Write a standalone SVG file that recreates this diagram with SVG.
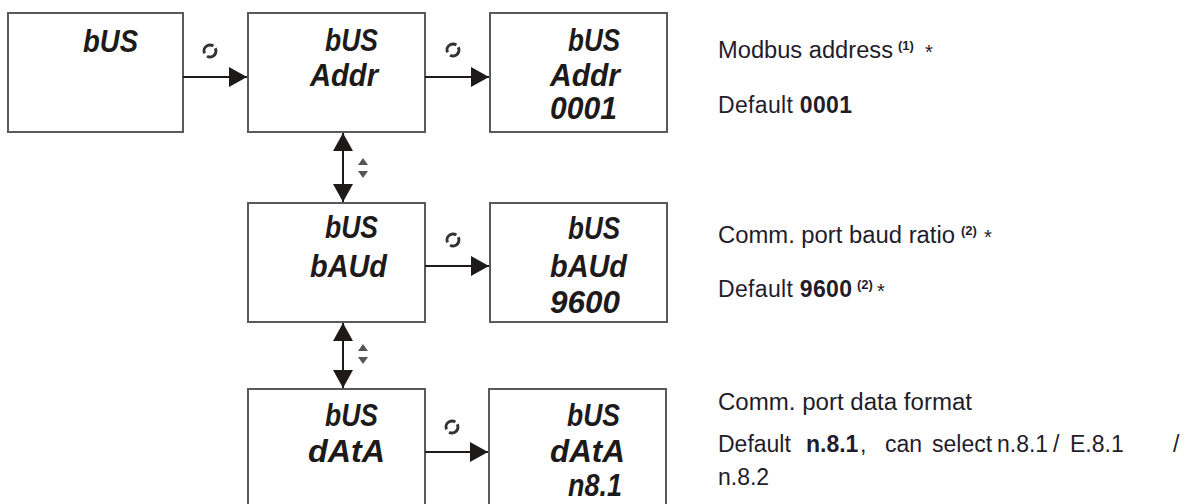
<svg xmlns="http://www.w3.org/2000/svg" width="1186" height="504" viewBox="0 0 1186 504">
<style>
.box{fill:#fff;stroke:#5a5a5a;stroke-width:2}
.lcd{font-family:"Liberation Sans Narrow","Liberation Sans",sans-serif;font-weight:bold;font-style:italic;font-size:31px;fill:#1e1a1a}
.conn{stroke:#1e1a1a;stroke-width:2;fill:none}
.rot{fill:none;stroke:#333;stroke-width:3;stroke-dasharray:15 3.8}
.ud{fill:#555}
.t{font-family:"Liberation Sans",Arial,sans-serif;font-size:23px;fill:#1f1d2b}
.b{font-weight:bold}
.sup{font-family:"Liberation Sans",Arial,sans-serif;font-size:13px;font-weight:bold;fill:#1f1d2b}
.ast{font-family:"Liberation Sans",Arial,sans-serif;font-size:20px;fill:#1f1d2b}
</style>
<defs>
<marker id="ah" viewBox="0 0 18 20" refX="18" refY="10" markerWidth="18" markerHeight="20" markerUnits="userSpaceOnUse" orient="auto-start-reverse">
<path d="M0,0 L18,10 L0,20 z" fill="#1e1a1a"/>
</marker>
</defs>
<rect width="1186" height="504" fill="#fff"/>

<g id="node-bus">
<rect class="box" x="8" y="13" width="175" height="119"/>
<text class="lcd" x="83" y="52" textLength="55" lengthAdjust="spacingAndGlyphs">bUS</text>
</g>
<g id="node-addr">
<rect class="box" x="248" y="13" width="177" height="119"/>
<text class="lcd" x="325" y="51" textLength="53" lengthAdjust="spacingAndGlyphs">bUS</text>
<text class="lcd" x="310" y="86" textLength="68" lengthAdjust="spacingAndGlyphs">Addr</text>
</g>
<g id="node-addr-val">
<rect class="box" x="490" y="13" width="177" height="119"/>
<text class="lcd" x="568" y="51" textLength="52" lengthAdjust="spacingAndGlyphs">bUS</text>
<text class="lcd" x="550" y="86" textLength="70" lengthAdjust="spacingAndGlyphs">Addr</text>
<text class="lcd" x="550" y="119" textLength="67" lengthAdjust="spacingAndGlyphs">0001</text>
</g>
<g id="node-baud">
<rect class="box" x="248" y="203" width="177" height="119"/>
<text class="lcd" x="325" y="238" textLength="53" lengthAdjust="spacingAndGlyphs">bUS</text>
<text class="lcd" x="310" y="277" textLength="77" lengthAdjust="spacingAndGlyphs">bAUd</text>
</g>
<g id="node-baud-val">
<rect class="box" x="490" y="203" width="177" height="119"/>
<text class="lcd" x="568" y="239" textLength="52" lengthAdjust="spacingAndGlyphs">bUS</text>
<text class="lcd" x="550" y="277" textLength="77" lengthAdjust="spacingAndGlyphs">bAUd</text>
<text class="lcd" x="550" y="313" textLength="70" lengthAdjust="spacingAndGlyphs">9600</text>
</g>
<g id="node-data">
<rect class="box" x="248" y="389" width="177" height="119"/>
<text class="lcd" x="325" y="426" textLength="53" lengthAdjust="spacingAndGlyphs">bUS</text>
<text class="lcd" x="308" y="462" textLength="77" lengthAdjust="spacingAndGlyphs">dAtA</text>
</g>
<g id="node-data-val">
<rect class="box" x="489" y="389" width="177" height="119"/>
<text class="lcd" x="567" y="426" textLength="53" lengthAdjust="spacingAndGlyphs">bUS</text>
<text class="lcd" x="550" y="462" textLength="75" lengthAdjust="spacingAndGlyphs">dAtA</text>
<text class="lcd" x="568" y="496" textLength="54" lengthAdjust="spacingAndGlyphs">n8.1</text>
</g>

<g id="connectors">
<line class="conn" x1="183" y1="77" x2="247" y2="77" marker-end="url(#ah)"/>
<line class="conn" x1="425" y1="77" x2="489" y2="77" marker-end="url(#ah)"/>
<line class="conn" x1="425" y1="266" x2="489" y2="266" marker-end="url(#ah)"/>
<line class="conn" x1="425" y1="452" x2="488" y2="452" marker-end="url(#ah)"/>
<line class="conn" x1="343" y1="133" x2="343" y2="202" marker-start="url(#ah)" marker-end="url(#ah)"/>
<line class="conn" x1="343" y1="323" x2="343" y2="388" marker-start="url(#ah)" marker-end="url(#ah)"/>
<circle class="rot" cx="210" cy="51" r="6" transform="rotate(-28 210 51)"/>
<circle class="rot" cx="453" cy="50" r="6" transform="rotate(-28 453 50)"/>
<circle class="rot" cx="453" cy="240" r="6" transform="rotate(-28 453 240)"/>
<circle class="rot" cx="452" cy="427" r="6" transform="rotate(-28 452 427)"/>
<path class="ud" d="M363,158 L368,165 L358,165 z M358,171 L368,171 L363,178 z"/>
<path class="ud" d="M363,344 L368,351 L358,351 z M358,357 L368,357 L363,364 z"/>
</g>

<g id="notes">
<text class="t" x="718" y="58" textLength="175" lengthAdjust="spacingAndGlyphs">Modbus address</text>
<text class="sup" x="898" y="50">(1)</text>
<text class="ast" x="925" y="59">*</text>
<text class="t" x="718" y="113" textLength="134" lengthAdjust="spacing">Default <tspan class="b">0001</tspan></text>

<text class="t" x="718" y="243" textLength="237" lengthAdjust="spacingAndGlyphs">Comm. port baud ratio</text>
<text class="sup" x="961" y="235">(2)</text>
<text class="ast" x="984" y="244">*</text>
<text class="t" x="718" y="297" textLength="134" lengthAdjust="spacing">Default <tspan class="b">9600</tspan></text>
<text class="sup" x="857" y="289">(2)</text>
<text class="ast" x="877" y="298">*</text>

<text class="t" x="718" y="410" textLength="254" lengthAdjust="spacingAndGlyphs">Comm. port data format</text>
<text class="t" y="452"><tspan x="718">Default</tspan><tspan class="b" x="806">n.8.1</tspan><tspan x="860">,</tspan><tspan x="885">can</tspan><tspan x="932">select</tspan><tspan x="997">n.8.1</tspan><tspan x="1053">/</tspan><tspan x="1070">E.8.1</tspan><tspan x="1173">/</tspan></text>
<text class="t" x="718" y="485">n.8.2</text>
</g>
</svg>
